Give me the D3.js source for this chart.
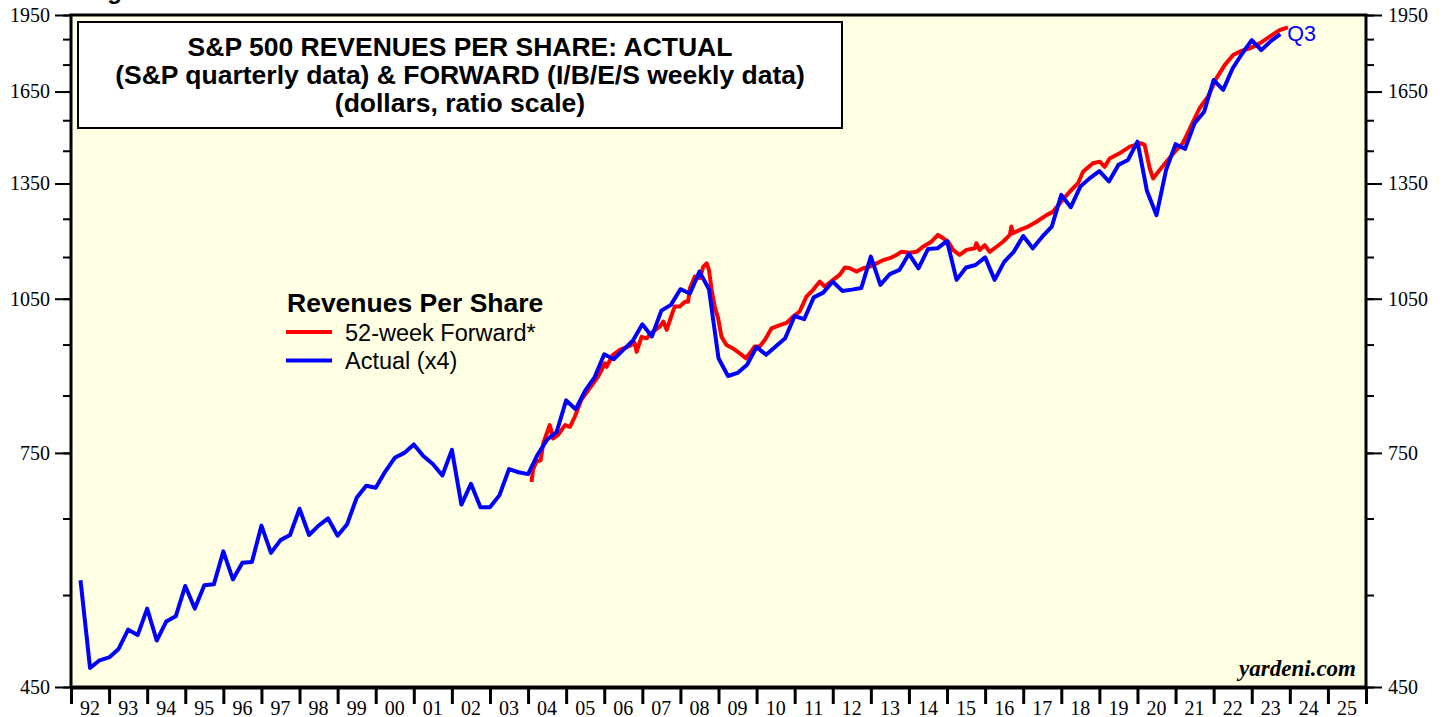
<!DOCTYPE html>
<html>
<head>
<meta charset="utf-8">
<script src="https://cdn.jsdelivr.net/npm/d3@7"></script>
<style>
  body { margin: 0; background: #fff; }
  svg { display: block; }
</style>
</head>
<body>
<svg width="1448" height="717"></svg>
<script>
var plotLeft = 71, plotRight = 1366, plotTop = 15, plotBottom = 687;

// actual revenues per share (x4), quarterly, Q1 1992 .. Q3 2023
var actualStart = 1992;
var actualValues = [
  568, 469, 477, 480, 489, 510, 504, 534, 498, 519, 525, 561, 534, 562, 563, 605,
  569, 590, 591, 640, 603, 620, 627, 664, 627, 640, 650, 626, 642, 680, 698, 695,
  720, 742, 750, 764, 745, 732, 714, 755, 670, 701, 666, 666, 684, 724, 719, 716,
  747, 772, 785, 841, 825, 859, 885, 930, 920, 939, 958, 993, 967, 1023, 1036, 1072,
  1062, 1114, 1072, 922, 887, 893, 909, 945, 929, 946, 963, 1011, 1004, 1053, 1064, 1090,
  1068, 1071, 1075, 1151, 1082, 1108, 1118, 1158, 1122, 1170, 1172, 1191, 1094, 1124, 1130, 1149,
  1094, 1138, 1163, 1204, 1172, 1202, 1229, 1317, 1282, 1341, 1366, 1387, 1356, 1406, 1421, 1479,
  1328, 1260, 1390, 1471, 1456, 1540, 1579, 1692, 1656, 1736, 1793, 1846, 1806, 1842, 1870
];

// 52-week forward revenues per share
var forwardYears = [
  2004.09, 2004.13, 2004.22, 2004.33, 2004.40, 2004.57, 2004.66, 2004.79, 2004.97, 2005.10,
  2005.23, 2005.40, 2005.62, 2005.84, 2006.02, 2006.06, 2006.23, 2006.41, 2006.63, 2006.80,
  2006.85, 2006.98, 2007.11, 2007.28, 2007.46, 2007.55, 2007.64, 2007.77, 2007.85, 2007.98,
  2008.12, 2008.20, 2008.25, 2008.38, 2008.51, 2008.60, 2008.69, 2008.75, 2008.82, 2008.90,
  2008.99, 2009.08, 2009.21, 2009.38, 2009.56, 2009.72, 2009.82, 2009.95, 2010.08, 2010.22,
  2010.39, 2010.61, 2010.79, 2010.96, 2011.13, 2011.31, 2011.48, 2011.66, 2011.79, 2012.01,
  2012.18, 2012.32, 2012.45, 2012.62, 2012.80, 2012.97, 2013.15, 2013.32, 2013.50, 2013.67,
  2013.80, 2014.02, 2014.20, 2014.37, 2014.59, 2014.76, 2014.90, 2015.03, 2015.16, 2015.33,
  2015.51, 2015.73, 2015.77, 2015.86, 2015.99, 2016.12, 2016.30, 2016.47, 2016.65, 2016.69,
  2016.73, 2016.91, 2017.13, 2017.35, 2017.61, 2017.78, 2018.00, 2018.22, 2018.44, 2018.57,
  2018.83, 2019.01, 2019.14, 2019.27, 2019.53, 2019.80, 2020.10, 2020.19, 2020.32, 2020.41,
  2020.58, 2020.76, 2020.98, 2021.19, 2021.42, 2021.63, 2021.85, 2022.07, 2022.29, 2022.51,
  2022.73, 2022.95, 2023.21, 2023.47, 2023.73, 2023.95
];
var forwardValues = [
  704, 723, 736, 738, 766, 797, 774, 780, 797, 794,
  812, 842, 864, 886, 912, 905, 929, 939, 946, 953,
  935, 966, 963, 977, 988, 999, 981, 1013, 1032, 1032,
  1043, 1043, 1074, 1102, 1098, 1126, 1134, 1118, 1070, 1032,
  1006, 966, 949, 942, 932, 922, 932, 946, 946, 960,
  984, 991, 996, 1010, 1021, 1055, 1070, 1090, 1078, 1094,
  1106, 1124, 1122, 1114, 1122, 1126, 1134, 1142, 1147, 1155,
  1163, 1161, 1163, 1176, 1189, 1207, 1198, 1189, 1168, 1155,
  1168, 1172, 1185, 1168, 1180, 1163, 1176, 1189, 1207, 1229,
  1211, 1220, 1229, 1242, 1260, 1269, 1298, 1326, 1351, 1385,
  1411, 1416, 1400, 1426, 1442, 1463, 1474, 1468, 1396, 1365,
  1390, 1416, 1447, 1474, 1534, 1591, 1632, 1698, 1748, 1787,
  1803, 1813, 1833, 1860, 1887, 1898
];

var yTicks = d3.range(450, 2000, 100);
var yLabels = [450, 750, 1050, 1350, 1650, 1950];
var yearTicks = d3.range(1992, 2027);
var yearLabels = d3.range(1992, 2026);

var titleLines = [
  "S&P 500 REVENUES PER SHARE: ACTUAL",
  "(S&P quarterly data) & FORWARD (I/B/E/S weekly data)",
  "(dollars, ratio scale)"
];
var legendTitle = "Revenues Per Share";
var seriesNames = ["52-week Forward*", "Actual (x4)"];
var seriesColors = ["#ff0000", "#0000ff"];

var serif = "'Liberation Serif', 'Times New Roman', serif";
var sans = "'Liberation Sans', Arial, sans-serif";

var svg = d3.select('svg');

var x = d3.scaleLinear().domain([1992, 2026]).range([plotLeft, plotRight]);
var y = d3.scaleLog().domain([450, 1950]).range([plotBottom, plotTop]);

// partially visible header above the chart
svg.append('text')
  .attr('x', 86).attr('y', -1)
  .style('font-family', sans).style('font-weight', 'bold').style('font-size', '24px')
  .text('Figure');

svg.append('rect')
  .attr('x', plotLeft).attr('y', plotTop)
  .attr('width', plotRight - plotLeft).attr('height', plotBottom - plotTop)
  .attr('fill', '#ffffe3');

// y axes: minor ticks every 100, labels every 300
function styleAxis(g) {
  g.select('.domain').remove();
  g.selectAll('line').attr('stroke', '#000').attr('stroke-width', 2);
  g.selectAll('text').style('font-family', serif).style('font-size', '20px').attr('fill', '#000');
}

svg.append('g').attr('transform', 'translate(' + plotLeft + ',0)')
  .call(d3.axisLeft(y).tickValues(yTicks).tickSize(8).tickFormat(''))
  .call(styleAxis);
svg.append('g').attr('transform', 'translate(' + plotLeft + ',0)')
  .call(d3.axisLeft(y).tickValues(yLabels).tickSize(16).tickPadding(5).tickFormat(d3.format('d')))
  .call(styleAxis);
svg.append('g').attr('transform', 'translate(' + plotRight + ',0)')
  .call(d3.axisRight(y).tickValues(yTicks).tickSize(8).tickFormat(''))
  .call(styleAxis);
svg.append('g').attr('transform', 'translate(' + plotRight + ',0)')
  .call(d3.axisRight(y).tickValues(yLabels).tickSize(16).tickPadding(6).tickFormat(d3.format('d')))
  .call(styleAxis);

// x axis: ticks at year boundaries, labels centred in each year
svg.append('g').attr('transform', 'translate(0,' + plotBottom + ')')
  .call(d3.axisBottom(x).tickValues(yearTicks).tickSize(17).tickFormat(''))
  .call(function(g) {
    g.select('.domain').remove();
    g.selectAll('line').attr('stroke', '#000').attr('stroke-width', 3);
  });

svg.append('g').selectAll('text')
  .data(yearLabels)
  .enter().append('text')
  .attr('x', function(d) { return x(d + 0.5); })
  .attr('y', 715)
  .attr('text-anchor', 'middle')
  .style('font-family', serif).style('font-size', '20px')
  .text(function(d) { return d3.format('02d')(d % 100); });

// title box
svg.append('rect')
  .attr('x', 78).attr('y', 22).attr('width', 764).attr('height', 106)
  .attr('fill', '#fff').attr('stroke', '#000').attr('stroke-width', 2);

svg.append('g').selectAll('text')
  .data(titleLines)
  .enter().append('text')
  .attr('x', 460)
  .attr('y', function(d, i) { return 56 + i * 28; })
  .attr('text-anchor', 'middle')
  .style('font-family', sans).style('font-weight', 'bold').style('font-size', '26.5px')
  .text(function(d) { return d; });

// series
var forward = forwardYears.map(function(d, i) { return [d, forwardValues[i]]; });
var actual = actualValues.map(function(v, i) { return [actualStart + (i + 1) / 4, v]; });

var line = d3.line()
  .x(function(d) { return x(d[0]); })
  .y(function(d) { return y(d[1]); });

svg.append('path')
  .datum(forward)
  .attr('d', line)
  .attr('fill', 'none')
  .attr('stroke', seriesColors[0])
  .attr('stroke-width', 4)
  .attr('stroke-linejoin', 'round');

svg.append('path')
  .datum(actual)
  .attr('d', line)
  .attr('fill', 'none')
  .attr('stroke', seriesColors[1])
  .attr('stroke-width', 4)
  .attr('stroke-linejoin', 'round');

svg.append('text')
  .attr('x', x(actual[actual.length - 1][0]) + 7)
  .attr('y', 41)
  .attr('fill', seriesColors[1])
  .style('font-family', sans).style('font-size', '21.5px')
  .text('Q3');

// legend
svg.append('text')
  .attr('x', 287).attr('y', 312)
  .style('font-family', sans).style('font-weight', 'bold').style('font-size', '26.5px')
  .text(legendTitle);

var legend = svg.append('g').selectAll('g')
  .data(seriesNames)
  .enter().append('g')
  .attr('transform', function(d, i) { return 'translate(0,' + (332 + i * 28.5) + ')'; });

legend.append('line')
  .attr('x1', 286).attr('x2', 332)
  .attr('stroke', function(d, i) { return seriesColors[i]; })
  .attr('stroke-width', 4);

legend.append('text')
  .attr('x', 345).attr('y', 8.5)
  .style('font-family', sans).style('font-size', '23.5px')
  .text(function(d) { return d; });

svg.append('text')
  .attr('x', 1356).attr('y', 676)
  .attr('text-anchor', 'end')
  .style('font-family', serif).style('font-weight', 'bold').style('font-style', 'italic')
  .style('font-size', '23px')
  .text('yardeni.com');

// plot frame
svg.append('rect')
  .attr('x', plotLeft).attr('y', plotTop)
  .attr('width', plotRight - plotLeft).attr('height', plotBottom - plotTop)
  .attr('fill', 'none').attr('stroke', '#000').attr('stroke-width', 3);
svg.append('line')
  .attr('x1', plotLeft - 1).attr('x2', plotRight + 1)
  .attr('y1', plotBottom + 1).attr('y2', plotBottom + 1)
  .attr('stroke', '#000').attr('stroke-width', 3);
</script>
</body>
</html>
